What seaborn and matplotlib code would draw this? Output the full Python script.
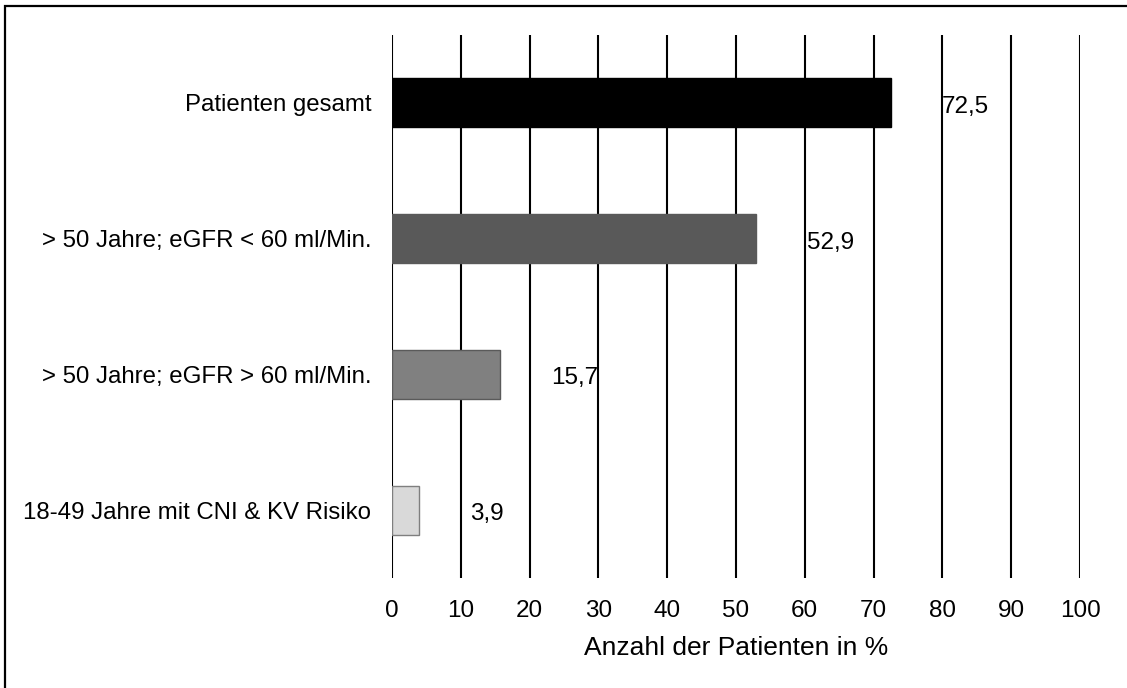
import matplotlib
matplotlib.use("Agg")
import matplotlib.pyplot as plt
from matplotlib.patches import Rectangle
import seaborn as sns
import pandas as pd

# Anteil der Patienten je Gruppe (in %)
categories = [
    "Patienten gesamt",
    "> 50 Jahre; eGFR < 60 ml/Min.",
    "> 50 Jahre; eGFR > 60 ml/Min.",
    "18-49 Jahre mit CNI & KV Risiko",
]
values = [72.5, 52.9, 15.7, 3.9]
value_labels = ["72,5", "52,9", "15,7", "3,9"]
x_ticks = [0, 10, 20, 30, 40, 50, 60, 70, 80, 90, 100]

fill_colors = ["#000000", "#595959", "#808080", "#D9D9D9"]
edge_colors = ["#000000", "#595959", "#5a5a5a", "#7f7f7f"]

sns.set_theme(style="white")
plt.rcParams["font.family"] = ["Liberation Sans", "DejaVu Sans"]

df = pd.DataFrame({"Gruppe": categories, "Wert": values})

fig = plt.figure(figsize=(11.27, 6.88), dpi=100)
ax = fig.add_axes([392 / 1127, 1 - 578 / 688, (1080 - 392) / 1127, (578 - 35) / 688])

sns.barplot(
    data=df, x="Wert", y="Gruppe", hue="Gruppe", order=categories,
    hue_order=categories, palette=fill_colors, legend=False,
    width=0.36, ax=ax, zorder=3,
)
for patch, ec in zip(ax.patches, edge_colors):
    patch.set_edgecolor(ec)
    patch.set_linewidth(1.0)

ax.set_xlim(0, 100)
ax.set_xticks(x_ticks)
ax.set_xticklabels([str(t) for t in x_ticks])
ax.xaxis.grid(True, color="black", linewidth=1.5, zorder=0)
ax.yaxis.grid(False)
ax.set_axisbelow(True)
for s in ax.spines.values():
    s.set_visible(False)

ax.tick_params(axis="x", length=0, pad=16, labelsize=17.5, colors="black")
ax.tick_params(axis="y", length=0, pad=15, labelsize=17.3, colors="black")
ax.set_ylabel("")
ax.set_xlabel("Anzahl der Patienten in %", fontsize=19, color="black", labelpad=10)

# Wertbeschriftungen rechts neben den Balken
for i, (v, lab) in enumerate(zip(values, value_labels)):
    ax.text(v + 7.4, i + 0.03, lab, ha="left", va="center",
            fontsize=17.5, color="black", zorder=5)

# Rahmen um die Grafik
fig.patches.append(Rectangle((5 / 1127, -0.2), 1.3, 1.2 - 6 / 688,
                             transform=fig.transFigure, fill=False,
                             edgecolor="black", linewidth=1.6))

fig.savefig("out.png", dpi=100)
